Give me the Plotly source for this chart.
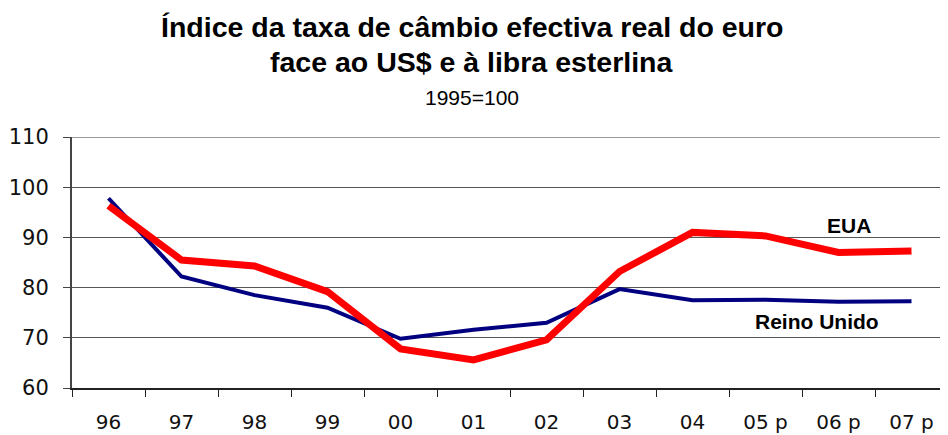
import plotly.graph_objects as go

categories = ["96", "97", "98", "99", "00", "01", "02", "03", "04", "05 p", "06 p", "07 p"]
reino_unido = [97.8, 82.2, 78.5, 76.0, 69.8, 71.6, 73.0, 79.7, 77.5, 77.6, 77.2, 77.3]
eua = [96.3, 85.5, 84.3, 79.2, 67.8, 65.6, 69.6, 83.2, 91.0, 90.3, 87.0, 87.3]

title_line1 = "Índice da taxa de câmbio efectiva real do euro"
title_line2 = "face ao US$ e à libra esterlina"
subtitle = "1995=100"

# page body has an 8px margin; size the figure so it fits the 948x435 window
OFF = 8
W, H = 948 - OFF, 435 - OFF
L, T, B = 72 - OFF, 137 - OFF, 388 - OFF

fig = go.Figure()
fig.add_trace(go.Scatter(x=categories, y=reino_unido, mode="lines", name="Reino Unido",
                         line=dict(color="#000080", width=4)))
fig.add_trace(go.Scatter(x=categories, y=eua, mode="lines", name="EUA",
                         line=dict(color="#FF0000", width=7)))

def py(p):
    return (B - (p - OFF)) / (B - T)
def px(p):
    return ((p - OFF) - L) / (W - L)

ann = []
ann.append(dict(text="<b>" + title_line1 + "</b>", x=px(472), y=py(27), xref="paper", yref="paper",
                showarrow=False, xanchor="center", yanchor="middle",
                font=dict(family="Liberation Sans, Arial", size=28.5, color="black")))
ann.append(dict(text="<b>" + title_line2 + "</b>", x=px(472), y=py(62), xref="paper", yref="paper",
                showarrow=False, xanchor="center", yanchor="middle",
                font=dict(family="Liberation Sans, Arial", size=28.5, color="black")))
ann.append(dict(text=subtitle, x=px(472), y=py(98), xref="paper", yref="paper",
                showarrow=False, xanchor="center", yanchor="middle",
                font=dict(family="Liberation Sans, Arial", size=21, color="black")))
ann.append(dict(text="<b>EUA</b>", x=10.14, y=92.4, xref="x", yref="y", showarrow=False,
                xanchor="center", yanchor="middle",
                font=dict(family="Liberation Sans, Arial", size=21, color="black")))
ann.append(dict(text="<b>Reino Unido</b>", x=9.71, y=73.2, xref="x", yref="y", showarrow=False,
                xanchor="center", yanchor="middle",
                font=dict(family="Liberation Sans, Arial", size=21, color="black")))

fig.update_layout(
    width=W, height=H,
    margin=dict(l=L, r=0, t=T, b=H - B, autoexpand=False),
    paper_bgcolor="white", plot_bgcolor="white",
    showlegend=False,
    annotations=ann,
)
fig.update_xaxes(
    type="category", range=[-0.5, 11.5],
    showline=True, linecolor="#222", linewidth=2,
    ticks="outside", tickson="boundaries", ticklen=7, tickcolor="#222", tickwidth=1,
    showgrid=False, ticklabelstandoff=15,
    tickfont=dict(family="DejaVu Sans", size=20, color="#111"),
)
fig.update_yaxes(
    range=[60, 110], tickvals=[60, 70, 80, 90, 100, 110],
    showline=True, linecolor="#444", linewidth=2,
    ticks="outside", ticklen=7, tickcolor="#444", tickwidth=1,
    showgrid=True, gridcolor="#555", gridwidth=1,
    zeroline=False, ticklabelstandoff=10,
    tickfont=dict(family="DejaVu Sans", size=21, color="#111"),
)
fig.add_shape(type="line", xref="paper", yref="y", x0=0, x1=1, y0=110, y1=110,
              line=dict(color="#999", width=2), layer="above")

fig.write_html("out.html")
